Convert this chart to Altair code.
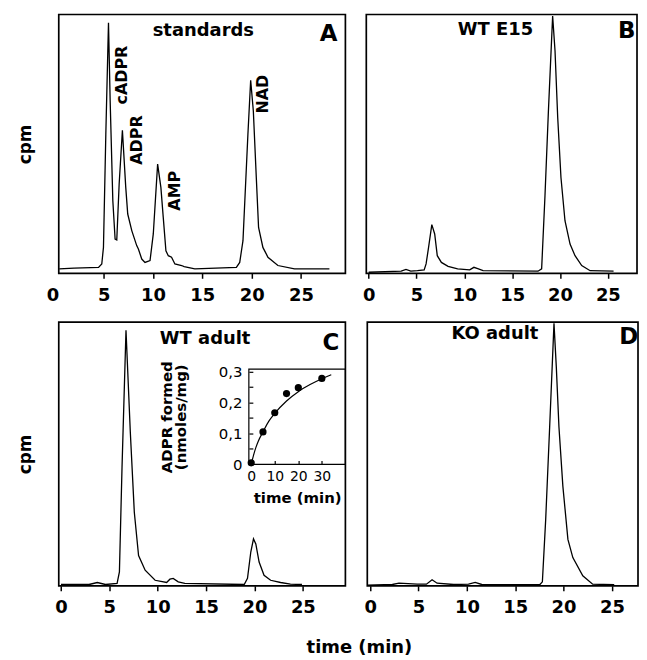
import altair as alt
import pandas as pd

FONT = "DejaVu Sans"
X_TICKS = [0, 5, 10, 15, 20, 25]

# ---- Panel A : standards ----
A_T = [0.5, 2.0, 4.48, 4.81, 4.98, 5.22, 5.49, 5.66, 5.93, 6.16, 6.33, 6.57, 6.9, 7.24, 7.44,
       7.85, 8.35, 8.52, 8.86, 9.19, 9.7, 10.03, 10.47, 10.8, 11.04, 11.31, 11.55, 11.88,
       12.22, 12.9, 13.16, 14.24, 18.45, 18.79, 19.12, 19.62, 19.9, 20.17, 20.47, 20.7,
       21.14, 21.65, 22.66, 24.34, 27.88]
A_V = [1.7, 2.0, 2.3, 3.6, 10, 53.7, 96.8, 66.6, 28, 13.2, 12.9, 34.4, 55.3, 33.2, 22.9,
       16.5, 10.7, 9.4, 5.5, 4.2, 4.9, 15.2, 42.2, 33.2, 21.6, 8.7, 6.8, 6.2,
       3.6, 3.0, 2.6, 1.7, 2.3, 4.2, 12.6, 53.7, 74.6, 62.7, 37, 17.7,
       10, 6.2, 3.0, 1.7, 1.7]

# ---- Panel B : WT E15 ----
B_T = [0, 3.4, 3.9, 4.4, 5.1, 5.8, 6.0, 6.26, 6.6, 6.9, 7.17, 7.6, 8.3, 9.3, 10.56, 11.0,
       11.4, 11.96, 17.7, 18.08, 18.43, 18.78, 19.23, 19.48, 19.76, 20.1, 20.52, 21.05,
       21.57, 22.27, 23.15, 25.6]
B_V = [0.4, 0.8, 1.5, 0.8, 1.0, 1.3, 3.6, 10, 18.8, 15.2, 6.8, 4.2, 2.7, 1.7, 1.3, 2.3,
       1.8, 1.0, 0.8, 1.7, 30, 62, 99.4, 85.9, 60.2, 37, 20.3, 11.3,
       6.8, 3.0, 1.0, 0.8]

# ---- Panel C : WT adult ----
C_T = [0, 2.9, 3.75, 4.6, 5.8, 6.04, 6.31, 6.72, 7.17, 7.58, 8.02, 8.7, 9.73, 10.92, 11.26,
       11.6, 12.12, 12.8, 18.94, 19.28, 19.62, 19.9, 20.14, 20.48, 20.99, 21.67, 22.7,
       23.72, 24.91]
C_V = [0.5, 0.5, 1.25, 0.5, 0.9, 5.3, 45, 96.9, 58, 27.9, 11.5, 5.9, 2.1, 1.25, 2.5,
       2.8, 1.5, 0.9, 0.5, 2.8, 12.8, 17.8, 15.9, 9.0, 4.0, 2.1, 1.25,
       0.6, 0.5]

# ---- Panel D : KO adult ----
D_T = [-0.27, 2.29, 2.98, 4.86, 5.82, 6.4, 6.92, 8.63, 10.17, 10.86, 11.54, 17.53, 17.81,
       18.15, 18.56, 19.01, 19.25, 19.52, 19.93, 20.45, 20.96, 21.99, 23.01, 25.24]
D_V = [0.25, 0.5, 1.0, 0.6, 0.6, 2.3, 1.0, 0.5, 0.6, 1.3, 0.5, 0.4, 1.5,
       25, 60, 99.5, 83, 60.4, 37.7, 17.6, 10.7, 3.8, 0.6, 0.4]

# ---- Inset (panel C): ADPR formed vs time ----
INSET_T = [0, 5, 10, 15, 20, 30]
INSET_V = [0.005, 0.105, 0.167, 0.229, 0.248, 0.278]
FIT_T = [0, 1, 2, 3, 5, 7.5, 10, 15, 20, 25, 30, 34]
FIT_V = [0, 0.03, 0.055, 0.075, 0.105, 0.14, 0.165, 0.205, 0.235, 0.258, 0.277, 0.29]
INSET_XDOM = [-1, 40]
INSET_YDOM = [0, 0.308]
INSET_XTICKS = [0, 10, 20, 30]
INSET_YLABELS = [0, 0.1, 0.2, 0.3]
INSET_YTICKS = [0, 0.05, 0.1, 0.15, 0.2, 0.25, 0.3]

# ---- Text annotations ----
A_PEAK_TEXT = ["cADPR", "ADPR", "AMP", "NAD"]
A_PEAK_T = [6.9, 8.35, 12.2, 21.2]
A_PEAK_V = [76.6, 51.5, 31.9, 69.2]

HEAD_TEXT = ["standards", "WT E15", "WT adult", "KO adult"]
HEAD_T = [15.1, 13.25, 14.9, 12.9]
HEAD_V = [93.8, 94.2, 93.7, 95.6]

LETTER_TEXT = ["A", "B", "C", "D"]
LETTER_T = [27.8, 26.05, 27.9, 25.75]
LETTER_V = [92.3, 93.8, 92.0, 94.3]

X_DOMAINS = [[0.45, 29.5], [-0.25, 28.05], [-0.23, 29.4], [-0.3, 27.7]]
WIDTHS = [288, 272, 288, 272]
HEIGHTS = [260, 260, 265, 265]


def chrom_layers(i, t, v, cpm):
    xs = alt.Scale(domain=X_DOMAINS[i], nice=False, zero=False)
    ys = alt.Scale(domain=[0, 100], nice=False, zero=False)
    lo = X_DOMAINS[i][0]
    if lo > 0:
        # zero lies just left of the frame: label it at the frame edge, right-aligned
        vals = [lo] + X_TICKS[1:]
        extra = dict(
            labelExpr="datum.value < 1 ? '0' : datum.label",
            labelAlign={"condition": {"test": "datum.value < 1", "value": "right"}, "value": "center"},
            tickOpacity={"condition": {"test": "datum.value < 1", "value": 0}, "value": 1},
        )
    else:
        vals = X_TICKS
        extra = {}
    xaxis = alt.Axis(values=vals, labelFont=FONT, labelFontSize=18, labelFontWeight="bold",
                     labelColor="black", tickColor="black", tickSize=5, tickWidth=1.5,
                     labelPadding=8, domain=False, grid=False, title=None, labelOverlap=False,
                     labelFlush=False, **extra)
    if cpm:
        yaxis = alt.Axis(labels=False, ticks=False, domain=False, grid=False, title="cpm",
                         titleFont=FONT, titleFontSize=17, titleFontWeight="bold",
                         titleColor="black", titlePadding=24)
    else:
        yaxis = alt.Axis(labels=False, ticks=False, domain=False, grid=False, title=None)
    df = pd.DataFrame({"t": t, "v": v})
    X = alt.X("t:Q", scale=xs, axis=xaxis)
    Y = alt.Y("v:Q", scale=ys, axis=yaxis)
    line = alt.Chart(df).mark_line(color="black", strokeWidth=1.3).encode(x=X, y=Y)
    head = alt.Chart(pd.DataFrame({"t": [HEAD_T[i]], "v": [HEAD_V[i]], "s": [HEAD_TEXT[i]]})).mark_text(
        font=FONT, fontSize=18, fontWeight="bold", color="black", baseline="middle", align="center"
    ).encode(x=X, y=Y, text="s:N")
    right_panel = i in (1, 3)
    letter = alt.Chart(pd.DataFrame({"t": [LETTER_T[i]], "v": [LETTER_V[i]], "s": [LETTER_TEXT[i]]})).mark_text(
        font=FONT, fontSize=23, fontWeight="bold", color="black", baseline="middle",
        align="left" if right_panel else "center"
    ).encode(x=X, y=Y, text="s:N")
    layers = [line, head, letter]
    if i == 0:
        peaks = alt.Chart(pd.DataFrame({"t": A_PEAK_T, "v": A_PEAK_V, "s": A_PEAK_TEXT})).mark_text(
            font=FONT, fontSize=16, fontWeight="bold", color="black", angle=270,
            baseline="middle", align="center"
        ).encode(x=X, y=Y, text="s:N")
        layers.append(peaks)
    return layers


def inset():
    w, h = WIDTHS[2], HEIGHTS[2]
    x0, x1 = 191, 288
    y0, y1 = 143, 47.3
    ixs = alt.Scale(domain=INSET_XDOM, range=[x0, x1], nice=False, zero=False)
    iys = alt.Scale(domain=INSET_YDOM, range=[y0, y1], nice=False, zero=False)
    lab_x_axis = alt.Axis(
        orient="bottom", offset=-(h - y0), values=INSET_XTICKS, ticks=False, domain=False,
        grid=False, labelFont=FONT, labelFontSize=14, labelColor="black", labelPadding=5,
        labelFlush=False, labelOverlap=False,
        title="time (min)", titleFont=FONT, titleFontSize=15, titleFontWeight="bold",
        titleColor="black", titlePadding=7)
    lab_y_axis = alt.Axis(
        orient="left", offset=-x0, values=INSET_YLABELS, ticks=False, domain=False,
        grid=False, labelFont=FONT, labelFontSize=15, labelColor="black", labelPadding=7,
        labelFlush=False, labelOverlap=False,
        labelExpr="datum.value == 0 ? '0' : replace(format(datum.value, '.1f'), '.', ',')",
        title=["ADPR formed", "(nmoles/mg)"], titleFont=FONT, titleFontSize=15,
        titleFontWeight="bold", titleColor="black", titlePadding=30, titleLineHeight=14)
    box_df = pd.DataFrame({"t": [INSET_XDOM[0]], "t2": [INSET_XDOM[1]],
                           "v": [INSET_YDOM[0]], "v2": [INSET_YDOM[1]]})
    box = alt.Chart(box_df).mark_rect(fillOpacity=0, stroke="black", strokeWidth=1.2).encode(
        x=alt.X("t:Q", scale=ixs, axis=lab_x_axis), x2="t2:Q",
        y=alt.Y("v:Q", scale=iys, axis=lab_y_axis), y2="v2:Q")
    fit = alt.Chart(pd.DataFrame({"t": FIT_T, "v": FIT_V})).mark_line(
        color="black", strokeWidth=1.2, interpolate="monotone"
    ).encode(
        x=alt.X("t:Q", scale=ixs, axis=lab_x_axis),
        y=alt.Y("v:Q", scale=iys, axis=lab_y_axis),
    )
    pts = alt.Chart(pd.DataFrame({"t": INSET_T, "v": INSET_V})).mark_circle(
        size=52, color="black", opacity=1
    ).encode(
        x=alt.X("t:Q", scale=ixs, axis=alt.Axis(
            orient="top", offset=-y0, values=INSET_XTICKS, labels=False, domain=False,
            grid=False, ticks=True, tickSize=4, tickColor="black", tickWidth=1.2, title=None)),
        y=alt.Y("v:Q", scale=iys, axis=alt.Axis(
            orient="right", offset=x0 - w, values=INSET_YTICKS, labels=False, domain=False,
            grid=False, ticks=True, tickSize=4, tickColor="black", tickWidth=1.2, title=None)),
    )
    return alt.layer(box, fit), pts


A = alt.layer(*chrom_layers(0, A_T, A_V, True)).properties(width=WIDTHS[0], height=HEIGHTS[0])
B = alt.layer(*chrom_layers(1, B_T, B_V, False)).properties(width=WIDTHS[1], height=HEIGHTS[1])
inset_a, inset_b = inset()
C = alt.layer(alt.layer(*chrom_layers(2, C_T, C_V, True)), inset_a, inset_b).resolve_scale(
    x="independent", y="independent").properties(width=WIDTHS[2], height=HEIGHTS[2])
D = alt.layer(*chrom_layers(3, D_T, D_V, False)).properties(width=WIDTHS[3], height=HEIGHTS[3])

top = alt.hconcat(A, B, spacing=15)
bottom = alt.hconcat(C, D, spacing=15)

chart = alt.vconcat(top, bottom, spacing=14).properties(
    title=alt.TitleParams("time (min)", orient="bottom", anchor="middle", font=FONT, fontSize=18,
                          fontWeight="bold", color="black", offset=22, dx=32),
    padding={"left": 8, "top": 3, "right": 0, "bottom": 0},
).configure(background="white").configure_view(stroke="black", strokeWidth=1.7)

chart.save("out.html", embed_options={"renderer": "svg", "actions": False})
